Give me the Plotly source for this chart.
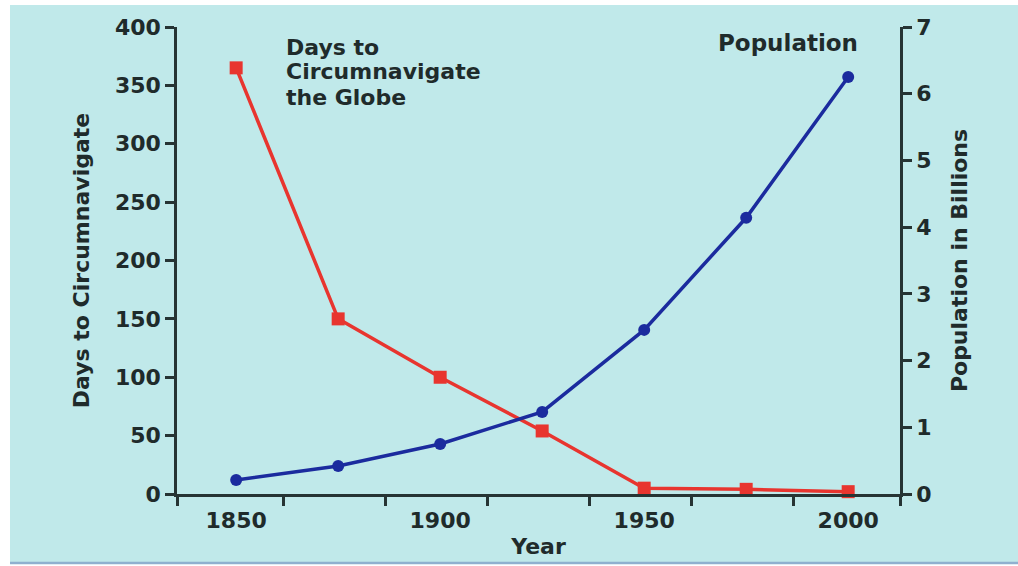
import plotly.graph_objects as go

# Years sampled every quarter century
years = [1850, 1875, 1900, 1925, 1950, 1975, 2000]
days_to_circumnavigate = [365, 150, 100, 54, 5, 4, 2]
population_billions = [0.21, 0.42, 0.75, 1.23, 2.46, 4.14, 6.25]

year_labels = [1850, 1900, 1950, 2000]
year_ticks = [1835.5, 1861.5, 1886.5, 1911.5, 1936.5, 1961.5, 1986.5, 2012.7]
days_ticks = [0, 50, 100, 150, 200, 250, 300, 350, 400]
pop_ticks = [0, 1, 2, 3, 4, 5, 6, 7]
series_label_lines = ["Days to", "Circumnavigate", "the Globe"]

RED = "#e8352f"
BLUE = "#1b2b9e"
INK = "#1f2b2b"
AXIS = "#263434"
BG = "#c0e9ea"
FONT = "DejaVu Sans"

# plot area in pixels
L, R, T, B = 177, 900, 27, 494
W, H = R - L, B - T


def px_x(x):
    return (x - L) / W


def px_y(y):
    return (B - y) / H


fig = go.Figure()

fig.add_trace(go.Scatter(
    x=years, y=days_to_circumnavigate, mode="lines+markers",
    line=dict(color=RED, width=3.5),
    marker=dict(symbol="square", size=13, color=RED),
    yaxis="y", showlegend=False, cliponaxis=False,
))
fig.add_trace(go.Scatter(
    x=years, y=population_billions, mode="lines+markers",
    line=dict(color=BLUE, width=3.5),
    marker=dict(symbol="circle", size=12, color=BLUE),
    yaxis="y2", showlegend=False, cliponaxis=False,
))

tick_font = dict(family=FONT, size=22, color=INK, weight="bold")
title_font = dict(family=FONT, size=22, color=INK, weight="bold")

fig.update_layout(
    width=1018, height=566,
    margin=dict(l=L, r=1018 - R, t=T, b=566 - B),
    paper_bgcolor="white",
    plot_bgcolor="rgba(0,0,0,0)",
    xaxis=dict(
        automargin=False,
        range=[1835.5, 2012.7], tickmode="array", tickvals=year_labels,
        ticks="", showgrid=False, zeroline=False,
        showline=True, linecolor=AXIS, linewidth=2.5,
        tickfont=tick_font, ticklabelstandoff=5,
        minor=dict(tickmode="array", tickvals=year_ticks, ticks="outside",
                   ticklen=9, tickwidth=2.5, tickcolor=AXIS, showgrid=False),
        title=dict(text="Year", font=title_font, standoff=7),
    ),
    yaxis=dict(
        automargin=False,
        range=[0, 400], tickmode="array", tickvals=days_ticks,
        ticks="outside", ticklen=9, tickwidth=2.5, tickcolor=AXIS,
        showgrid=False, zeroline=False,
        showline=True, linecolor=AXIS, linewidth=2.5,
        tickfont=tick_font,
        title=dict(text="Days to Circumnavigate", font=title_font, standoff=20),
    ),
    yaxis2=dict(
        automargin=False,
        range=[0, 7], tickmode="array", tickvals=pop_ticks,
        overlaying="y", side="right",
        ticks="outside", ticklen=9, tickwidth=2.5, tickcolor=AXIS,
        showgrid=False, zeroline=False,
        showline=True, linecolor=AXIS, linewidth=2.5,
        tickfont=tick_font,
        title=dict(text="Population in Billions", font=title_font, standoff=22),
    ),
    shapes=[
        # cyan panel behind the whole chart, leaving a thin white frame
        dict(type="rect", xref="paper", yref="paper", layer="below",
             x0=px_x(10), x1=px_x(1025), y0=px_y(562), y1=px_y(5),
             fillcolor=BG, line=dict(width=0)),
        dict(type="line", xref="paper", yref="paper", layer="below",
             x0=px_x(10), x1=px_x(1025), y0=px_y(563), y1=px_y(563),
             line=dict(color="#8fb0cf", width=2.5)),
    ],
)

# series label for the red line, one annotation per line of text
for i, line_text in enumerate(series_label_lines):
    fig.add_annotation(
        text=line_text, xref="paper", yref="paper",
        x=px_x(284), y=px_y(47 + 25 * i), xanchor="left", yanchor="middle",
        showarrow=False, font=dict(family=FONT, size=22, color=INK, weight="bold"),
    )

fig.add_annotation(
    text="Population", xref="paper", yref="paper",
    x=px_x(860), y=px_y(43), xanchor="right", yanchor="middle",
    showarrow=False, font=dict(family=FONT, size=23, color=INK, weight="bold"),
)

fig.write_html("out.html")
